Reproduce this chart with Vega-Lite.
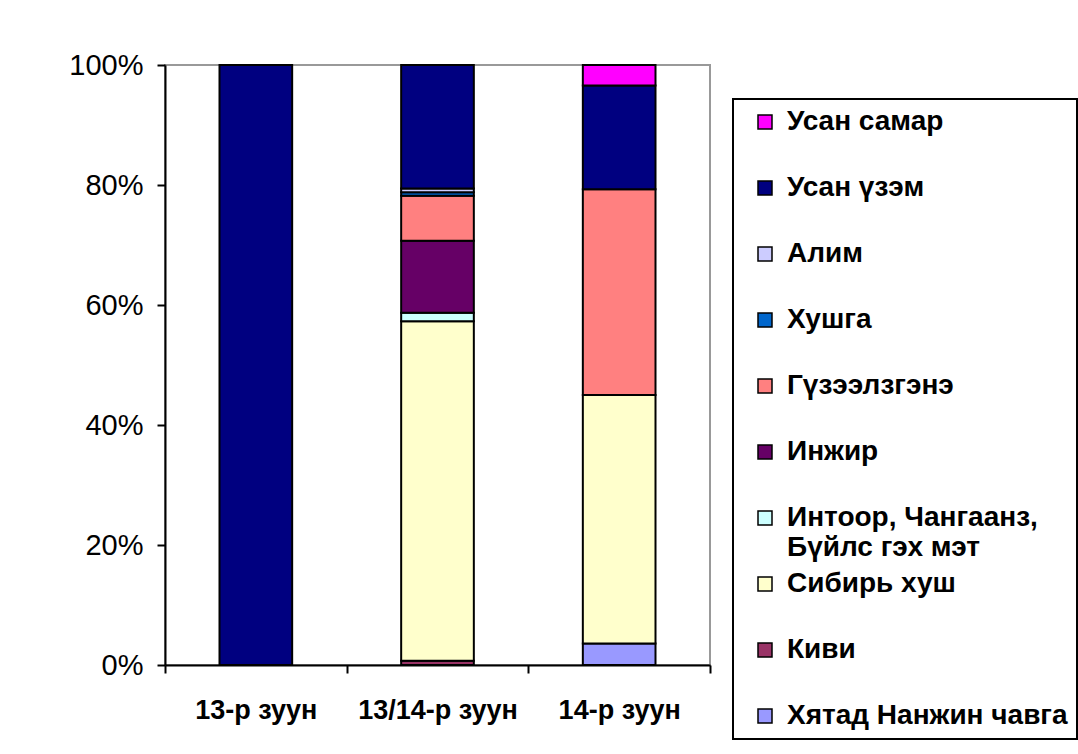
{
  "$schema": "https://vega.github.io/schema/vega-lite/v6.json",
  "width": 545,
  "height": 600,
  "autosize": {"type": "none"},
  "padding": {"left": 165, "top": 65, "right": 368, "bottom": 89},
  "background": "white",
  "config": {
    "font": "Liberation Sans",
    "view": {"stroke": "#999999", "strokeWidth": 2},
    "legend": {"strokeColor": "black", "strokeWidth": 2}
  },
  "data": {
    "values": [
      {"period": "13-р зуун", "fruit": "Усан үзэм", "pct": 100, "k": 9},
      {"period": "13/14-р зуун", "fruit": "Киви", "pct": 0.7, "k": 2},
      {"period": "13/14-р зуун", "fruit": "Сибирь хуш", "pct": 56.6, "k": 3},
      {"period": "13/14-р зуун", "fruit": "Интоор, Чангаанз, Бүйлс гэх мэт", "pct": 1.4, "k": 4},
      {"period": "13/14-р зуун", "fruit": "Инжир", "pct": 12.0, "k": 5},
      {"period": "13/14-р зуун", "fruit": "Гүзээлзгэнэ", "pct": 7.5, "k": 6},
      {"period": "13/14-р зуун", "fruit": "Хушга", "pct": 0.6, "k": 7},
      {"period": "13/14-р зуун", "fruit": "Алим", "pct": 0.6, "k": 8},
      {"period": "13/14-р зуун", "fruit": "Усан үзэм", "pct": 20.6, "k": 9},
      {"period": "14-р зуун", "fruit": "Хятад Нанжин чавга", "pct": 3.6, "k": 1},
      {"period": "14-р зуун", "fruit": "Сибирь хуш", "pct": 41.4, "k": 3},
      {"period": "14-р зуун", "fruit": "Гүзээлзгэнэ", "pct": 34.3, "k": 6},
      {"period": "14-р зуун", "fruit": "Усан үзэм", "pct": 17.3, "k": 9},
      {"period": "14-р зуун", "fruit": "Усан самар", "pct": 3.4, "k": 10}
    ]
  },
  "mark": {"type": "bar", "stroke": "black", "strokeWidth": 2, "width": {"band": 0.4}},
  "encoding": {
    "x": {
      "field": "period",
      "type": "nominal",
      "sort": ["13-р зуун", "13/14-р зуун", "14-р зуун"],
      "scale": {"paddingInner": 0, "paddingOuter": 0},
      "axis": {
        "title": null,
        "labelAngle": 0,
        "labelFontSize": 27,
        "labelFontWeight": "bold",
        "labelColor": "black",
        "domainColor": "black",
        "domainWidth": 2,
        "tickColor": "black",
        "tickWidth": 2,
        "tickSize": 8,
        "tickBand": "extent",
        "labelPadding": 24
      }
    },
    "y": {
      "field": "pct",
      "type": "quantitative",
      "stack": "normalize",
      "scale": {"domain": [0, 1]},
      "axis": {
        "title": null,
        "format": ".0%",
        "values": [0, 0.2, 0.4, 0.6, 0.8, 1],
        "grid": false,
        "labelFontSize": 29,
        "labelColor": "black",
        "domainColor": "black",
        "domainWidth": 2,
        "tickColor": "black",
        "tickWidth": 2,
        "tickSize": 8,
        "labelPadding": 14
      }
    },
    "color": {
      "field": "fruit",
      "type": "nominal",
      "scale": {
        "domain": ["Усан самар", "Усан үзэм", "Алим", "Хушга", "Гүзээлзгэнэ", "Инжир", "Интоор, Чангаанз, Бүйлс гэх мэт", "Сибирь хуш", "Киви", "Хятад Нанжин чавга"],
        "range": ["#FF00FF", "#000080", "#CCCCFF", "#0066CC", "#FF8080", "#660066", "#CCFFFF", "#FFFFCC", "#993366", "#9999FF"]
      },
      "legend": {
        "orient": "none",
        "legendX": 568,
        "legendY": 34,
        "title": null,
        "direction": "vertical",
        "symbolType": "square",
        "symbolSize": 196,
        "symbolStrokeColor": "black",
        "symbolStrokeWidth": 1.5,
        "symbolOpacity": 1,
        "symbolOffset": 9,
        "labelFontSize": 28,
        "labelFontWeight": "bold",
        "labelColor": "black",
        "labelLimit": 500,
        "labelOffset": 8,
        "labelExpr": "datum.label == 'Интоор, Чангаанз, Бүйлс гэх мэт' ? ['Интоор, Чангаанз,', 'Бүйлс гэх мэт'] : datum.label",
        "gridAlign": "all",
        "rowPadding": 8,
        "padding": 9,
        "strokeColor": "black"
      }
    },
    "order": {"field": "k", "type": "quantitative", "sort": "ascending"}
  }
}
